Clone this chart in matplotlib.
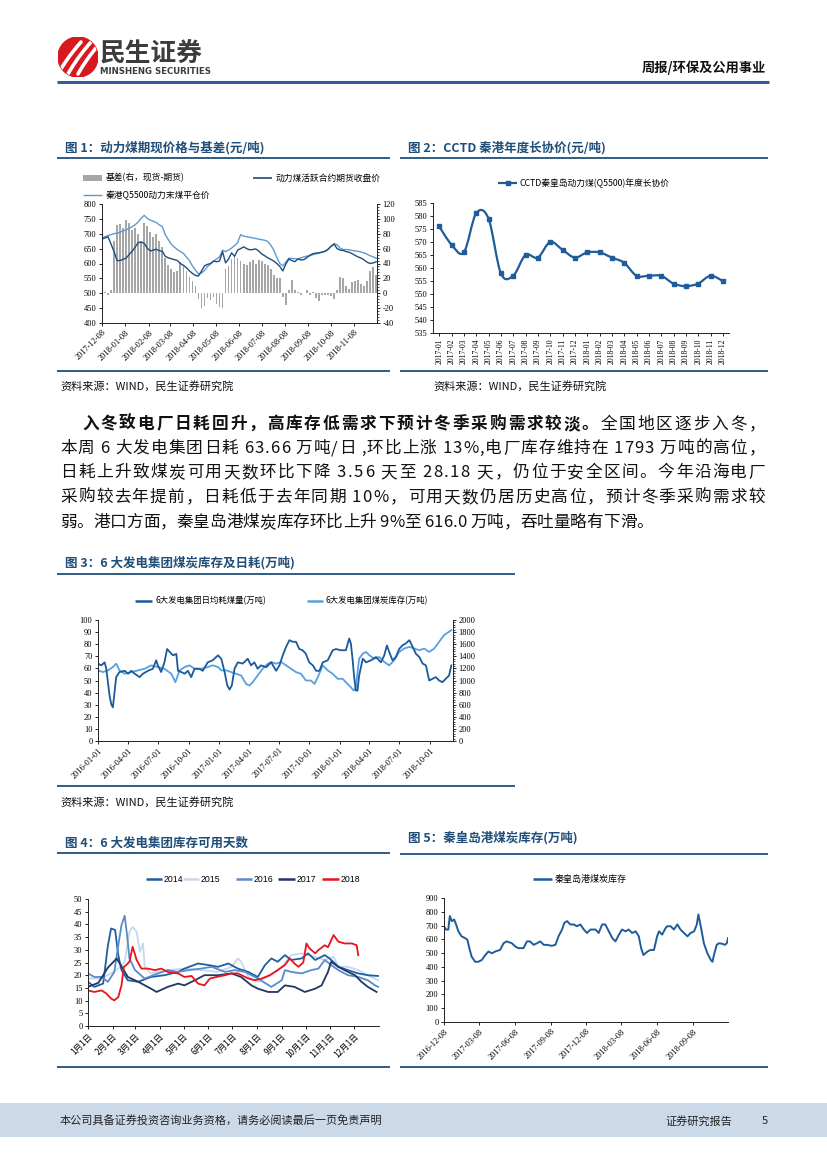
import numpy as np
import pandas as pd
import matplotlib
matplotlib.use('Agg')
import matplotlib.pyplot as plt
from matplotlib.lines import Line2D
from matplotlib.patches import Rectangle, Circle, PathPatch
from matplotlib.path import Path
from matplotlib.font_manager import FontProperties
from matplotlib.ticker import MultipleLocator

plt.rcParams['font.family'] = ['Noto Sans CJK SC', 'DejaVu Sans']
plt.rcParams['axes.unicode_minus'] = False

# ---------------- DATA ----------------
# Fig 1: 4-day sampling from 2017-12-08
f1_start = '2017-12-08'
f1_spot = [686, 690, 694, 697, 700, 702, 705, 710, 713, 718,
           724, 730, 740, 752, 762, 752, 746, 742, 738, 730,
           724, 697, 680, 665, 655, 647, 640, 634, 622, 610,
           592, 578, 565, 568, 576, 590, 598, 608, 615, 622,
           645, 640, 645, 652, 660, 670, 697, 692, 690, 688,
           686, 684, 682, 680, 678, 674, 662, 645, 620, 600,
           592, 605, 618, 617, 616, 616, 619, 622, 625, 626,
           630, 632, 635, 638, 641, 647, 657, 667, 663, 652,
           647, 647, 646, 644, 642, 641, 638, 636, 631, 626,
           622, 618]
f1_fut = [682, 686, 690, 665, 640, 610, 610, 614, 618, 630,
          641, 655, 670, 672, 668, 652, 642, 645, 648, 643,
          641, 624, 619, 616, 613, 610, 600, 594, 586, 575,
          567, 560, 558, 574, 592, 597, 600, 608, 606, 608,
          640, 602, 615, 636, 624, 645, 650, 656, 650, 646,
          647, 649, 642, 632, 626, 619, 614, 608, 600, 590,
          575, 598, 615, 610, 606, 615, 612, 613, 620, 628,
          633, 635, 636, 638, 641, 648, 658, 665, 650, 645,
          644, 640, 638, 633, 627, 622, 618, 612, 604, 600,
          602, 606]
f1_basis = [3, 2, -2, 4, 70, 92, 93, 88, 98, 94,
            85, 88, 80, 70, 95, 90, 82, 76, 80, 70,
            62, 48, 38, 32, 28, 30, 42, 38, 30, 22,
            17, 10, -8, -20, -17, -6, -9, -5, -14, -19,
            -20, 32, 36, 46, 52, 48, 44, 40, 38, 42,
            45, 40, 45, 44, 40, 38, 32, 24, 21, 20,
            -5, -16, 5, 18, 4, 2, -2, 1, 4, -3,
            2, -6, -10, -2, -3, -2, -4, -8, 5, 22,
            20, 10, 6, 15, 17, 18, 12, 10, 16, 30,
            35, 25]
f1_xticks = ['2017-12-08', '2018-01-08', '2018-02-08', '2018-03-08', '2018-04-08', '2018-05-08',
             '2018-06-08', '2018-07-08', '2018-08-08', '2018-09-08', '2018-10-08', '2018-11-08']

# Fig 2
f2_months = ['2017-01', '2017-02', '2017-03', '2017-04', '2017-05', '2017-06', '2017-07', '2017-08',
             '2017-09', '2017-10', '2017-11', '2017-12', '2018-01', '2018-02', '2018-03', '2018-04',
             '2018-05', '2018-06', '2018-07', '2018-08', '2018-09', '2018-10', '2018-11', '2018-12']
f2_vals = [576, 569, 566, 581, 579, 558, 557, 565, 564, 570, 567, 564,
           566, 566, 564, 562, 557, 557, 557, 554, 553, 554, 557, 555]

# Fig 3 (days since 2016-01-01)
f3_start = '2016-01-01'
f3_cons_day = [0, 10, 20, 25, 30, 35, 40, 45, 50, 55,
               65, 81, 91, 101, 111, 126, 136, 151, 166, 176,
               181, 191, 201, 209, 217, 227, 237, 242, 252, 262,
               272, 282, 292, 307, 317, 332, 347, 363, 373, 383,
               391, 398, 405, 413, 423, 438, 453, 463, 473, 483,
               493, 509, 524, 539, 549, 559, 569, 579, 589, 599,
               609, 619, 629, 639, 650, 660, 670, 680, 695, 710,
               720, 735, 750, 760, 765, 770, 775, 780, 785, 790,
               801, 811, 826, 841, 856, 866, 874, 881, 891, 901,
               911, 921, 931, 942, 952, 962, 972, 982, 992, 1002,
               1012, 1022, 1032, 1042, 1052, 1062, 1069]
f3_cons = [64, 62.5, 65, 60, 48.6, 37.5, 30.5, 27.8, 40, 52.8,
           57, 58, 55.6, 58, 55.6, 52.8, 55.6, 58, 59.7, 66.7,
           62.5, 57, 65, 76, 73.6, 70.8, 72, 58, 57, 55.6,
           58, 52.8, 59.7, 59.7, 58, 65, 66.7, 70.8, 68, 57,
           46, 42.5, 46, 59.7, 65, 64, 68, 62.5, 65, 59.7,
           62.5, 61, 65, 58, 62.5, 70.8, 77.8, 83.3, 82, 82,
           76, 75, 72, 65, 62.5, 58, 58, 65, 66.7, 75,
           76, 75, 75, 84.7, 80.6, 68, 52.8, 41.7, 41.7, 54,
           68, 65, 66.7, 69.4, 65, 70.8, 79, 73.6, 66.7, 69.4,
           76, 79, 80.6, 83.3, 77.8, 72, 69.4, 64, 62.5, 50,
           51.4, 52.8, 50, 48.6, 51.4, 54, 62.5]
f3_stock_day = [0, 15, 30, 45, 55, 65, 81, 101, 121, 141,
                161, 181, 201, 222, 234, 247, 262, 277, 292, 312,
                332, 347, 363, 373, 388, 403, 418, 433, 448, 458,
                468, 483, 498, 514, 524, 539, 554, 569, 584, 599,
                614, 629, 644, 655, 665, 680, 695, 710, 725, 740,
                755, 765, 773, 780, 790, 801, 811, 821, 836, 851,
                866, 881, 896, 911, 926, 942, 957, 972, 987, 1002,
                1017, 1032, 1047, 1062, 1069]
f3_stock = [1167, 1139, 1167, 1222, 1278, 1167, 1111, 1139, 1167, 1194,
            1250, 1222, 1194, 1111, 972, 1167, 1222, 1250, 1194, 1194,
            1222, 1250, 1222, 1167, 1167, 1139, 1111, 1083, 944, 917,
            972, 1083, 1194, 1278, 1306, 1278, 1306, 1250, 1194, 1139,
            1111, 1000, 1000, 944, 1055, 1250, 1167, 1111, 1028, 1028,
            944, 889, 833, 889, 1361, 1444, 1472, 1417, 1361, 1389,
            1306, 1250, 1333, 1472, 1528, 1556, 1528, 1500, 1528, 1472,
            1528, 1639, 1750, 1806, 1833]
f3_xticks = ['2016-01-01', '2016-04-01', '2016-07-01', '2016-10-01', '2017-01-01', '2017-04-01',
             '2017-07-01', '2017-10-01', '2018-01-01', '2018-04-01', '2018-07-01', '2018-10-01']

# Fig 4 (day of year)
f4_years = ['2014', '2015', '2016', '2017', '2018']
f4_day_2014 = [0, 8, 19, 25, 29, 34, 38, 42, 50, 63, 79, 96, 113, 121, 138, 151, 163, 176, 188, 201,
               213, 222, 230, 238, 247, 255, 268, 276, 285, 297, 303, 314, 326, 339, 351, 364]
f4_val_2014 = [17.4, 15.4, 16.7, 31.8, 38.4, 37.8, 27.9, 22, 18, 17.4, 19.3, 20, 21.3, 22.6, 24.6, 24,
               23.3, 24.6, 22.6, 21.3, 19.3, 24, 26.6, 25.3, 27.9, 26, 26.6, 28.6, 26, 27.9,
               26.6, 23.3, 22, 20.7, 20, 19.7]
f4_day_2015 = [0, 13, 25, 38, 46, 52, 56, 61, 65, 69, 71, 79, 100, 121, 142, 163, 180, 188, 192, 201,
               213, 226, 243, 255, 268, 285, 297, 308, 314, 326, 339, 351, 364]
f4_val_2015 = [18.7, 18.7, 20, 22.6, 25.3, 37.1, 39, 37.1, 29.2, 32.5, 23.3, 20.7, 22, 22.6, 22, 21.3,
               23.3, 26.6, 25.3, 19.3, 17.4, 19.3, 23.3, 27.9, 28.6, 27.2, 26, 27.2, 23.3, 23.3,
               22, 20, 18]
f4_day_2016 = [0, 8, 17, 25, 33, 38, 42, 46, 49, 52, 59, 71, 88, 100, 113, 126, 142, 155, 172, 184,
               197, 213, 230, 243, 247, 255, 268, 280, 289, 297, 305, 314, 326, 339, 351, 360, 364]
f4_val_2016 = [20.7, 19.3, 19.3, 17.4, 21.3, 31.8, 39.7, 43.4, 35.8, 26.6, 22, 18.7, 20.7, 22, 21.3, 22,
               22.6, 23.3, 21.3, 22, 21.3, 18.7, 15.4, 18, 22, 21.3, 20.7, 22, 22.6, 26,
               24, 22, 20, 19.3, 18, 16, 15.4]
f4_day_2017 = [0, 13, 25, 36, 50, 63, 79, 86, 100, 113, 121, 134, 146, 163, 180, 192, 205, 213, 226, 238,
               247, 259, 272, 285, 293, 301, 305, 314, 326, 335, 343, 351, 362]
f4_val_2017 = [15.4, 17, 23, 26.6, 19.3, 17.4, 14.7, 13.4, 15.4, 16.7, 16, 18, 20, 20, 20.7, 19.3, 16,
               14.7, 13.4, 13.4, 16, 15.4, 13.4, 14.7, 16, 21.3, 25.3, 23.3, 21.3, 20, 17.4, 15.4, 13.4]
f4_day_2018 = [0, 8, 17, 23, 29, 33, 38, 42, 45, 48, 52, 56, 61, 67, 75, 84, 92, 100, 113, 121,
               130, 138, 146, 153, 161, 172, 180, 188, 201, 209, 218, 228, 238, 247, 253, 259, 264, 270,
               274, 278, 285, 289, 297, 301, 308, 314, 322, 331, 337, 339]
f4_val_2018 = [14, 13.4, 14, 12.8, 10.8, 10.1, 11.4, 16, 23.3, 24, 25.3, 31.2, 26, 22.6, 22.6, 22, 22.6,
               21.3, 20.7, 19.3, 19.7, 16.7, 16, 18.7, 19.3, 20, 20.7, 20.7, 18.7, 18, 18.7, 20, 22, 24,
               26.6, 24.6, 23.3, 25, 32.5, 30.5, 28.6, 29.9, 31.8, 31, 35.8, 33.2, 32.5, 32.5, 31.8, 27.9]
f4_tick_days = [0, 31, 59, 90, 120, 151, 181, 212, 243, 273, 304, 334]
f4_xlabels = ['1月1日', '2月1日', '3月1日', '4月1日', '5月1日', '6月1日',
              '7月1日', '8月1日', '9月1日', '10月1日', '11月1日', '12月1日']

# Fig 5 (days since 2016-12-08)
f5_start = '2016-12-08'
f5_day = [0, 5, 11, 15, 20, 26, 31, 37, 45, 54, 60, 65, 71, 80, 88, 97, 106, 114, 123, 131,
          144, 153, 161, 174, 183, 191, 204, 213, 221, 230, 239, 247, 256, 264, 277, 286, 294, 303,
          309, 316, 324, 333, 341, 350, 359, 367, 376, 389, 397, 406, 414, 423, 432, 440, 449, 457,
          466, 474, 483, 492, 500, 506, 512, 522, 530, 539, 547, 552, 560, 569, 573, 582, 590, 599,
          607, 616, 625, 633, 642, 649, 653, 659, 667, 676, 685, 689, 693, 700, 706, 715, 721, 726, 729]
f5_val = [695, 671, 671, 769, 732, 744, 708, 658, 622, 609, 597, 536, 474, 437, 437, 450, 486, 511,
          499, 511, 523, 572, 585, 572, 548, 536, 536, 585, 585, 560, 572, 585, 560, 560, 553, 560,
          622, 671, 720, 732, 708, 708, 695, 708, 671, 646, 671, 671, 646, 708, 708, 658, 609, 585,
          634, 671, 658, 671, 646, 658, 622, 536, 486, 511, 523, 523, 622, 658, 634, 683, 695, 695,
          671, 708, 671, 646, 622, 646, 658, 708, 781, 695, 572, 499, 450, 437, 486, 560, 572, 567,
          560, 572, 609]
f5_xticks = ['2016-12-08', '2017-03-08', '2017-06-08', '2017-09-08', '2017-12-08',
             '2018-03-08', '2018-06-08', '2018-09-08']

# ---------------- FIGURE ----------------
W, H = 827, 1169
fig = plt.figure(figsize=(8.27, 11.69), dpi=100)
fig.patch.set_facecolor('white')

TITLE_C = '#1F4E79'
RULE_C = '#1F4E79'
SERIF = 'Liberation Serif'


def ax_px(x0, y0, x1, y1):
    return fig.add_axes([x0 / W, 1 - y1 / H, (x1 - x0) / W, (y1 - y0) / H])


def T(x, y, s, **kw):
    kw.setdefault('va', 'center')
    return fig.text(x / W, 1 - y / H, s, **kw)


def HL(x0, x1, y, color, lw, **kw):
    fig.add_artist(Line2D([x0 / W, x1 / W], [1 - y / H, 1 - y / H], color=color, lw=lw,
                          transform=fig.transFigure, solid_capstyle='butt', **kw))


def style(ax, right=False, ls=6):
    ax.spines['top'].set_visible(False)
    ax.spines['right'].set_visible(right)
    for s in ax.spines.values():
        s.set_linewidth(0.7)
        s.set_color('#222222')
    ax.tick_params(length=2.5, width=0.6, labelsize=ls, pad=1.5, labelfontfamily=SERIF)
    ax.patch.set_alpha(0)


# ---------- Header ----------
ax_logo = ax_px(58, 37, 98, 77)
ax_logo.set_xlim(-1, 1); ax_logo.set_ylim(-1, 1); ax_logo.set_aspect('equal'); ax_logo.axis('off')
circ = Circle((0, 0), 1, color='#D7191F')
ax_logo.add_patch(circ)
for off in [-0.55, -0.05, 0.45]:
    t = np.linspace(0, 1, 30)
    xs = off - 0.45 + 0.9 * t + 0.25 * t ** 2
    ys = -0.85 + 1.6 * t
    ln, = ax_logo.plot(xs, ys, color='white', lw=2.6, solid_capstyle='round')
    ln.set_clip_path(circ)
T(100, 53, '民生证券', fontsize=18.5, fontweight='bold', color='#3C3C3C')
T(100, 71, 'MINSHENG SECURITIES', fontsize=6.2, fontweight='bold', color='#3C3C3C',
  family='DejaVu Sans')
T(766, 68, '周报/环保及公用事业', fontsize=9.5, fontweight='bold', ha='right', color='#111111')
HL(57, 769, 82, '#2F5E97', 2.2)

# ---------- Titles and rules ----------
def section(x0, x1, ytitle, yline, title):
    T(x0 + 8, ytitle, title, fontsize=9, fontweight='bold', color=TITLE_C)
    HL(x0, x1, yline, RULE_C, 1.3)

section(57, 390, 148, 158, '图 1：动力煤期现价格与基差(元/吨)')
section(400, 768, 148, 158, '图 2：CCTD 秦港年度长协价(元/吨)')
HL(57, 390, 371, RULE_C, 1.3)
HL(400, 768, 371, RULE_C, 1.3)
T(60, 386, '资料来源：WIND，民生证券研究院', fontsize=8, color='#111111')
T(433, 386, '资料来源：WIND，民生证券研究院', fontsize=8, color='#111111')

section(57, 515, 563, 574, '图 3：6 大发电集团煤炭库存及日耗(万吨)')
HL(57, 515, 786, RULE_C, 1.3)
T(60, 802, '资料来源：WIND，民生证券研究院', fontsize=8, color='#111111')

section(57, 390, 843, 853, '图 4：6 大发电集团库存可用天数')
section(400, 768, 838, 854, '图 5：秦皇岛港煤炭库存(万吨)')
HL(57, 390, 1067, RULE_C, 1.3)
HL(400, 768, 1067, RULE_C, 1.3)

# ---------- Fig 1 ----------
C_SPOT = '#5B9BD5'
C_FUT = '#1F4E79'
C_BAR = '#A6A6A6'
ax1 = ax_px(102, 204, 377, 323)
ax1r = ax1.twinx()
d1 = pd.date_range(f1_start, periods=len(f1_spot), freq='4D')
ax1r.bar(d1, f1_basis, width=2.3, color=C_BAR, linewidth=0)
ax1.plot(d1, f1_spot, color=C_SPOT, lw=1.0)
ax1.plot(d1, f1_fut, color=C_FUT, lw=1.0)
ax1.set_ylim(400, 800)
ax1.set_yticks(range(400, 801, 50))
ax1r.set_ylim(-40, 120)
ax1r.set_yticks(range(-40, 121, 20))
ax1r.yaxis.set_minor_locator(MultipleLocator(4))
ax1.set_xlim(pd.Timestamp('2017-12-08'), pd.Timestamp('2018-12-08'))
ax1.set_xticks(pd.to_datetime(f1_xticks), f1_xticks, rotation=45, ha='right', rotation_mode='anchor')
style(ax1, right=False)
style(ax1r, right=True)
ax1r.tick_params(which='minor', length=1.5, width=0.5)
ax1r.spines['left'].set_visible(False)
ax1r.spines['bottom'].set_visible(False)
ax1.set_zorder(2); ax1r.set_zorder(1)
ax1.patch.set_visible(False)
# legend
fig.add_artist(Rectangle((83 / W, 1 - 181 / H), 19 / W, 6 / H, transform=fig.transFigure,
                         color=C_BAR, lw=0))
T(106, 178, '基差(右，现货-期货)', fontsize=6.3)
HL(253, 272, 178, C_FUT, 1.2)
T(276, 178, '动力煤活跃合约期货收盘价', fontsize=6.3)
HL(83, 102, 195, C_SPOT, 1.0)
T(106, 195, '秦港Q5500动力末煤平仓价', fontsize=6.3)

# ---------- Fig 2 ----------
C2 = '#1F5C99'
ax2 = ax_px(433, 203, 729, 333)
x2 = np.arange(len(f2_vals))
P = np.column_stack([x2, np.asarray(f2_vals, dtype=float)])
verts = [tuple(P[0])]
codes = [Path.MOVETO]
n = len(P)
for i in range(n - 1):
    p0 = P[i - 1] if i > 0 else P[i]
    p1 = P[i]
    p2 = P[i + 1]
    p3 = P[i + 2] if i + 2 < n else P[i + 1]
    c1 = p1 + (p2 - p0) / 6.0
    c2 = p2 - (p3 - p1) / 6.0
    verts += [tuple(c1), tuple(c2), tuple(p2)]
    codes += [Path.CURVE4] * 3
ax2.add_patch(PathPatch(Path(verts, codes), fill=False, edgecolor=C2, lw=1.6))
ax2.plot(x2, f2_vals, 's', ms=3.3, color=C2)
ax2.set_xlim(-0.5, len(f2_vals) - 0.5)
ax2.set_ylim(535, 585)
ax2.set_yticks(range(535, 586, 5))
ax2.set_xticks(x2, f2_months, rotation=90)
style(ax2)
ax2.tick_params(axis='x', labelsize=5.5)
HL(498, 517, 183, C2, 1.6)
fig.add_artist(Line2D([507.5 / W], [1 - 183 / H], marker='s', ms=3.3, color=C2,
                      transform=fig.transFigure))
T(519, 183, 'CCTD秦皇岛动力煤(Q5500)年度长协价', fontsize=6.3)

# ---------- Paragraph ----------
renderer = fig.canvas.get_renderer()
PSIZE = 12


def fp_of(weight):
    return FontProperties(family=['Noto Sans CJK SC', 'DejaVu Sans'], weight=weight, size=PSIZE)


def adv(ch, fp):
    if ch == ' ':
        a = renderer.get_text_width_height_descent('a a', fp, ismath=False)[0]
        b = renderer.get_text_width_height_descent('aa', fp, ismath=False)[0]
        return a - b
    w2 = renderer.get_text_width_height_descent(ch + ch, fp, ismath=False)[0]
    w1 = renderer.get_text_width_height_descent(ch, fp, ismath=False)[0]
    return w2 - w1


def para_line(segments, x0, x1, ybase, justify=True):
    items = []
    for text, weight in segments:
        fp = fp_of(weight)
        for ch in text:
            items.append((ch, fp, adv(ch, fp)))
    total = sum(a for _, _, a in items)
    extra = (x1 - x0 - total) / (len(items) - 1) if justify else 0.0
    x = x0
    for ch, fp, a in items:
        if ch != ' ':
            fig.text(x / W, 1 - ybase / H, ch, fontproperties=fp, va='baseline', ha='left',
                     color='#111111')
        x += a + extra


para = [
    ([('入冬致电厂日耗回升，高库存低需求下预计冬季采购需求较淡。', 'bold'), ('全国地区逐步入冬，', 'normal')], 82, True),
    ([('本周 6 大发电集团日耗 63.66 万吨/日 ,环比上涨 13%,电厂库存维持在 1793 万吨的高位，', 'normal')], 60, True),
    ([('日耗上升致煤炭可用天数环比下降 3.56 天至 28.18 天，仍位于安全区间。今年沿海电厂', 'normal')], 60, True),
    ([('采购较去年提前，日耗低于去年同期 10%，可用天数仍居历史高位，预计冬季采购需求较', 'normal')], 60, True),
    ([('弱。港口方面，秦皇岛港煤炭库存环比上升 9%至 616.0 万吨，吞吐量略有下滑。', 'normal')], 60, False),
]
ys = [429, 453, 477, 502, 527]
for (segs, xs0, just), yb in zip(para, ys):
    para_line(segs, xs0, 765, yb, justify=just)

# ---------- Fig 3 ----------
C3D = '#1B5A9B'
C3L = '#56A0E3'
ax3 = ax_px(98, 620, 453, 741)
ax3r = ax3.twinx()
d3c = pd.Timestamp(f3_start) + pd.to_timedelta(f3_cons_day, unit='D')
d3s = pd.Timestamp(f3_start) + pd.to_timedelta(f3_stock_day, unit='D')
ax3r.plot(d3s, f3_stock, color=C3L, lw=1.3)
ax3.plot(d3c, f3_cons, color=C3D, lw=1.3)
ax3.set_ylim(0, 100)
ax3.set_yticks(range(0, 101, 10))
ax3r.set_ylim(0, 2000)
ax3r.set_yticks(range(0, 2001, 200))
ax3r.yaxis.set_minor_locator(MultipleLocator(40))
ax3.set_xlim(pd.Timestamp('2016-01-01'), pd.Timestamp('2018-12-10'))
ax3.set_xticks(pd.to_datetime(f3_xticks), f3_xticks, rotation=45, ha='right', rotation_mode='anchor')
style(ax3)
style(ax3r, right=True)
ax3r.tick_params(which='minor', length=1.5, width=0.5)
ax3r.spines['left'].set_visible(False)
ax3r.spines['bottom'].set_visible(False)
ax3.set_zorder(2); ax3r.set_zorder(1)
ax3.patch.set_visible(False)
HL(135, 152, 601, C3D, 1.8)
T(155, 601, '6大发电集团日均耗煤量(万吨)', fontsize=6)
HL(307, 323, 601, C3L, 1.8)
T(326, 601, '6大发电集团煤炭库存(万吨)', fontsize=6)

# ---------- Fig 4 ----------
f4_colors = {'2014': '#1F5FA0', '2015': '#C5D8EF', '2016': '#5A8BC9', '2017': '#1F3864', '2018': '#E8141C'}
f4_data = {'2014': (f4_day_2014, f4_val_2014), '2015': (f4_day_2015, f4_val_2015),
           '2016': (f4_day_2016, f4_val_2016), '2017': (f4_day_2017, f4_val_2017),
           '2018': (f4_day_2018, f4_val_2018)}
ax4 = ax_px(88, 899, 379, 1026)
for yr in ['2015', '2014', '2016', '2017', '2018']:
    dd, vv = f4_data[yr]
    ax4.plot(dd, vv, color=f4_colors[yr], lw=1.3)
ax4.set_xlim(0, 365)
ax4.set_ylim(0, 50)
ax4.set_yticks(range(0, 51, 5))
ax4.set_xticks(f4_tick_days, f4_xlabels, rotation=45, ha='right', rotation_mode='anchor')
style(ax4)
for lab in ax4.get_xticklabels():
    lab.set_fontfamily(['Noto Sans CJK SC', 'DejaVu Sans'])
    lab.set_fontsize(6)
leg4 = [('2014', 146, 162, 164), ('2015', 183, 199, 201), ('2016', 236, 252, 254),
        ('2017', 278, 295, 297), ('2018', 322, 339, 341)]
for yr, a, b, tx in leg4:
    HL(a, b, 879, f4_colors[yr], 1.8)
    T(tx, 879, yr, fontsize=6.3, family='Liberation Sans')

# ---------- Fig 5 ----------
C5 = '#1F5C99'
ax5 = ax_px(444, 898, 728, 1022)
d5 = pd.Timestamp(f5_start) + pd.to_timedelta(f5_day, unit='D')
ax5.plot(d5, f5_val, color=C5, lw=1.4)
ax5.set_ylim(0, 900)
ax5.set_yticks(range(0, 901, 100))
ax5.set_xlim(pd.Timestamp('2016-12-08'), pd.Timestamp('2018-12-07'))
ax5.set_xticks(pd.to_datetime(f5_xticks), f5_xticks, rotation=45, ha='right', rotation_mode='anchor')
style(ax5)
HL(533, 552, 879, C5, 1.8)
T(555, 879, '秦皇岛港煤炭库存', fontsize=6.5)

# ---------- Footer ----------
fig.add_artist(Rectangle((0, 1 - 1137 / H), 1, 34 / H, transform=fig.transFigure,
                         color='#CCD9E8', lw=0))
T(60, 1121, '本公司具备证券投资咨询业务资格，请务必阅读最后一页免责声明', fontsize=8, color='#222222')
T(665, 1121, '证券研究报告', fontsize=8, color='#222222')
T(762, 1121, '5', fontsize=8, color='#222222')

fig.savefig('out.png', dpi=100)
